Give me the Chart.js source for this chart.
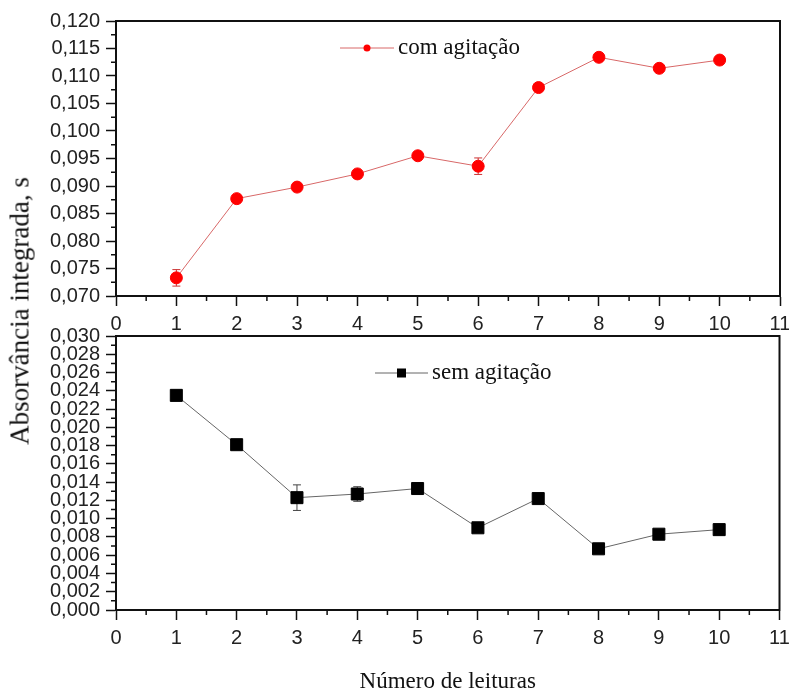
<!DOCTYPE html>
<html>
<head>
<meta charset="utf-8">
<script src="https://cdn.jsdelivr.net/npm/chart.js@4.4.1/dist/chart.umd.min.js"></script>
<style>
  body { margin: 0; background: #fff; width: 789px; height: 692px; overflow: hidden; position: relative; }
  canvas { position: absolute; left: 0; }
  #topChart { top: 0; }
  #bottomChart { top: 320px; }
  #yTitle {
    position: absolute; left: 20px; top: 311px;
    transform: translate(-50%, -50%) rotate(-90deg);
    font: 27px "Liberation Serif", "Times New Roman", serif;
    white-space: nowrap; color: #111;
  }
</style>
</head>
<body>
<canvas id="topChart" width="789" height="345"></canvas>
<canvas id="bottomChart" width="789" height="380"></canvas>
<div id="yTitle">Absorvância integrada, s</div>
<script>
//*************DATA******************* */
const readings = [1, 2, 3, 4, 5, 6, 7, 8, 9, 10];
const comAgitacao = [0.0733, 0.0877, 0.0898, 0.0922, 0.0955, 0.0936, 0.1079, 0.1134, 0.1114, 0.1129];
const comErro = [0.0015, 0.0003, 0.0002, 0.0002, 0.0002, 0.0015, 0.0003, 0.0002, 0.0002, 0.0002];
const semAgitacao = [0.0235, 0.0181, 0.0123, 0.0127, 0.0133, 0.0090, 0.0122, 0.0067, 0.0083, 0.0088];
const semErro = [0.0002, 0.0002, 0.0014, 0.0008, 0.0002, 0.0002, 0.0004, 0.0002, 0.0002, 0.0002];
const xTitle = "Número de leituras";
//********************************************** */

const tickFont = { family: "'Liberation Sans', Arial, sans-serif", size: 20 };
const serif = "'Liberation Serif', 'Times New Roman', serif";
const fmt = (v) => v.toFixed(3).replace(".", ",");

// error bars, minor ticks, frame and the in-plot legend
const extras = {
  id: "extras",
  beforeDatasetsDraw(chart, args, opts) {
    const ctx = chart.ctx;
    const meta = chart.getDatasetMeta(0);
    const ys = chart.scales.y;
    ctx.save();
    ctx.strokeStyle = opts.errColor;
    ctx.lineWidth = 1;
    meta.data.forEach((pt, i) => {
      const v = chart.data.datasets[0].data[i].y;
      const e = opts.errors[i];
      const y1 = ys.getPixelForValue(v + e), y2 = ys.getPixelForValue(v - e);
      ctx.beginPath();
      ctx.moveTo(pt.x, y1); ctx.lineTo(pt.x, y2);
      ctx.moveTo(pt.x - 4, y1); ctx.lineTo(pt.x + 4, y1);
      ctx.moveTo(pt.x - 4, y2); ctx.lineTo(pt.x + 4, y2);
      ctx.stroke();
    });
    ctx.restore();
  },
  afterDraw(chart, args, opts) {
    const ctx = chart.ctx;
    const a = chart.chartArea;
    const xs = chart.scales.x, ys = chart.scales.y;
    ctx.save();
    ctx.strokeStyle = "#111";
    ctx.lineWidth = 2;
    ctx.strokeRect(a.left, a.top, a.right - a.left, a.bottom - a.top);
    // minor ticks
    ctx.lineWidth = 1.5;
    ctx.beginPath();
    for (let v = xs.min + 0.5; v < xs.max; v += 1) {
      const px = xs.getPixelForValue(v);
      ctx.moveTo(px, a.bottom); ctx.lineTo(px, a.bottom + 5);
    }
    for (let v = ys.min + opts.yMinor; v < ys.max - 1e-9; v += 2 * opts.yMinor) {
      const py = ys.getPixelForValue(v);
      ctx.moveTo(a.left, py); ctx.lineTo(a.left - 5, py);
    }
    ctx.stroke();
    // legend
    const lg = opts.legend;
    const ds = chart.data.datasets[0];
    ctx.strokeStyle = ds.borderColor;
    ctx.lineWidth = 1;
    ctx.beginPath();
    ctx.moveTo(lg.x0, lg.y); ctx.lineTo(lg.x1, lg.y);
    ctx.stroke();
    ctx.fillStyle = ds.pointBackgroundColor;
    const mx = (lg.x0 + lg.x1) / 2;
    if (ds.pointStyle === "rect") {
      ctx.fillRect(mx - lg.r, lg.y - lg.r, 2 * lg.r, 2 * lg.r);
    } else {
      ctx.beginPath(); ctx.arc(mx, lg.y, lg.r, 0, Math.PI * 2); ctx.fill();
    }
    ctx.fillStyle = "#111";
    ctx.font = "23px " + serif;
    ctx.textBaseline = "middle";
    ctx.fillText(ds.label, lg.x1 + 4, lg.y);
    ctx.restore();
  },
};

function makeConfig(values, errors, opt) {
  return {
    type: "line",
    data: {
      datasets: [{
        label: opt.label,
        data: readings.map((r, i) => ({ x: r, y: values[i] })),
        borderColor: opt.lineColor,
        borderWidth: 1,
        pointStyle: opt.pointStyle,
        pointRadius: opt.pointRadius,
        pointBackgroundColor: opt.pointColor,
        pointBorderColor: opt.pointColor,
        tension: 0,
      }],
    },
    options: {
      responsive: false,
      animation: false,
      devicePixelRatio: 1,
      layout: { padding: { left: 0, right: 9, top: opt.padTop, bottom: 0 } },
      plugins: {
        legend: { display: false },
        tooltip: { enabled: false },
        extras: { errors: errors, errColor: opt.errColor, yMinor: opt.yMinor, legend: opt.legend },
      },
      scales: {
        x: {
          type: "linear", min: 0, max: 11,
          ticks: { stepSize: 1, font: tickFont, color: "#222", padding: 6, maxRotation: 0, autoSkip: false },
          grid: { drawOnChartArea: false, tickLength: 10, tickColor: "#111", tickWidth: 1.5 },
          border: { color: "#111", width: 2 },
          title: opt.xTitle
            ? { display: true, text: opt.xTitle, font: { family: serif, size: 23 }, color: "#111", padding: { top: 0, bottom: 4 } }
            : { display: false },
          afterFit: (s) => { s.height = opt.xHeight; s.paddingLeft = 0; s.paddingRight = 0; },
        },
        y: {
          min: opt.yMin, max: opt.yMax,
          ticks: { stepSize: opt.yStep, font: tickFont, color: "#222", padding: 6, autoSkip: false, callback: (v) => fmt(v) },
          grid: { drawOnChartArea: false, tickLength: 10, tickColor: "#111", tickWidth: 1.5 },
          border: { color: "#111", width: 2 },
          afterFit: (s) => { s.width = 116; s.paddingTop = 0; s.paddingBottom = 0; },
        },
      },
    },
    plugins: [extras],
  };
}

new Chart(document.getElementById("topChart"), makeConfig(comAgitacao, comErro, {
  label: "com agitação",
  lineColor: "#d86868", pointColor: "#ff0000", errColor: "#cc3333",
  pointStyle: "circle", pointRadius: 6,
  yMin: 0.07, yMax: 0.12, yStep: 0.005, yMinor: 0.0025,
  padTop: 21, xHeight: 49,
  legend: { x0: 340, x1: 394, y: 48, r: 3.5 },
}));

new Chart(document.getElementById("bottomChart"), makeConfig(semAgitacao, semErro, {
  label: "sem agitação",
  lineColor: "#666666", pointColor: "#000000", errColor: "#444444",
  pointStyle: "rect", pointRadius: 8.5,
  yMin: 0, yMax: 0.03, yStep: 0.002, yMinor: 0.001,
  padTop: 16, xHeight: 90, xTitle: xTitle,
  legend: { x0: 375, x1: 428, y: 53, r: 4.5 },
}));
</script>
</body>
</html>
